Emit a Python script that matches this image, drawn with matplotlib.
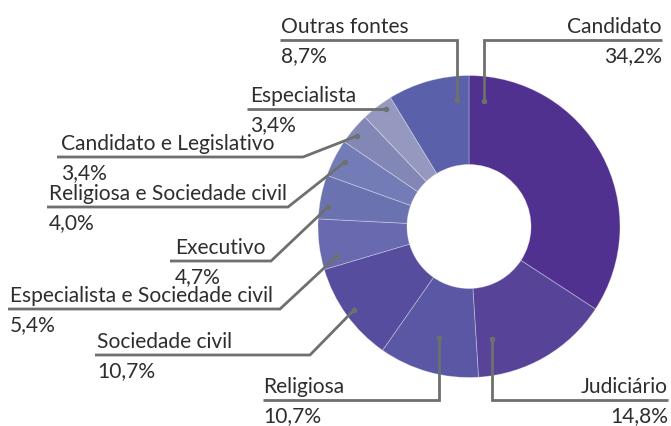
import matplotlib.pyplot as plt

# slice data, clockwise from 12 o'clock
categories = ["Candidato", "Judiciário", "Religiosa", "Sociedade civil",
              "Especialista e Sociedade civil", "Executivo",
              "Religiosa e Sociedade civil", "Candidato e Legislativo",
              "Especialista", "Outras fontes"]
shares = [34.2, 14.8, 10.7, 10.7, 5.4, 4.7, 4.0, 3.4, 3.4, 8.7]
pct_labels = ["34,2%", "14,8%", "10,7%", "10,7%", "5,4%", "4,7%",
              "4,0%", "3,4%", "3,4%", "8,7%"]

colors = ["#50318F", "#574499", "#5A58A4", "#564D9E", "#6869AE",
          "#6A72B0", "#747CB8", "#8387B5", "#9699BF", "#5A60AA"]

W, H = 671, 427
CX, CY = 469, 227.5   # pixel coords (y down)
R_OUT, R_IN = 151, 62

# leader lines in pixel coords (y down): first point is the dot
leaders = [
    [(484, 102), (484, 41), (662, 41)],
    [(492, 340), (492, 401), (668, 401)],
    [(439, 339), (439, 401), (263, 401)],
    [(354, 311), (310, 356), (95, 356)],
    [(337, 257), (280, 310), (8, 310)],
    [(328, 208), (271, 262), (170, 262)],
    [(345, 163), (288, 208), (47, 208)],
    [(357, 137), (303, 158), (57, 158)],
    [(386, 110), (247, 110)],
    [(457, 101), (457, 41), (280, 41)],
]
# text anchor x and alignment
text_x = [662, 668, 263, 97, 10, 175, 49, 61, 250, 281]
text_ha = ["right", "right", "left", "left", "left", "left", "left", "left", "left", "left"]

line_col = "#6D716E"
text_col = "#2E2E2E"

plt.rcParams['font.family'] = ['Lato', 'DejaVu Sans']

fig = plt.figure(figsize=(W / 100, H / 100), dpi=100)
ax = fig.add_axes([0, 0, 1, 1])

ax.pie(shares, colors=colors, startangle=90, counterclock=False,
       radius=R_OUT, center=(CX, H - CY),
       wedgeprops=dict(width=R_OUT - R_IN, edgecolor=(1, 1, 1, 0.35), linewidth=0.6))

for i, pts in enumerate(leaders):
    xs = [p[0] for p in pts]
    ys = [H - p[1] for p in pts]
    ax.plot(xs, ys, color=line_col, lw=2, solid_capstyle='butt', solid_joinstyle='miter')
    ax.plot(xs[0], ys[0], 'o', color=line_col, ms=4, mec='none')
    ly = pts[-1][1]
    ax.text(text_x[i], H - (ly - 8), categories[i], ha=text_ha[i], va='baseline',
            fontsize=15.1, color=text_col)
    ax.text(text_x[i], H - (ly + 21), pct_labels[i], ha=text_ha[i], va='baseline',
            fontsize=15.1, color=text_col)

ax.set_xlim(0, W)
ax.set_ylim(0, H)
ax.set_aspect('equal')
ax.axis('off')

fig.savefig("out.png", dpi=100)
